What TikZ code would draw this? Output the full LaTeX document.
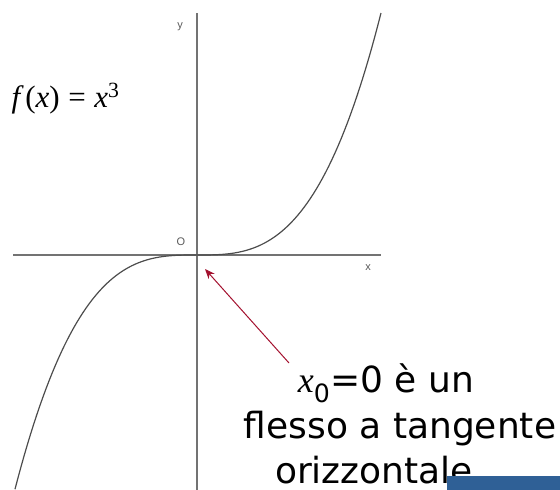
\documentclass[tikz,border=0pt]{standalone}
\usepackage{fontspec}
\setmainfont{DejaVu Sans}
\newfontfamily\lserif{Liberation Serif}
\newfontfamily\lsans{Liberation Sans}
\usetikzlibrary{arrows.meta}
\definecolor{flexred}{HTML}{A3112E}
\definecolor{barblue}{HTML}{2F6096}
\tikzset{
  axis/.style={draw=gray!90!black, line width=1.3pt},
  curve/.style={draw=black!70, line width=1.2pt},
  axlabel/.style={font=\lsans\fontsize{11}{11}\selectfont, text=black!65},
  noteline/.style={font=\fontsize{36}{36}\selectfont, anchor=base},
  pointer/.style={draw=flexred, line width=1pt, -{Stealth[length=10pt,width=8pt]}}
}
\begin{document}
\begin{tikzpicture}[x=1pt,y=-1pt]
\useasboundingbox (0,0) rectangle (560,490);
\coordinate (O) at (197,255);
% axes
\draw[axis] (13,255) -- (381,255);
\draw[axis] (197,13) -- (197,490);
\node[axlabel] (ylab) at (180,27) {y};
\node[axlabel] (xlab) at (368,268) {x};
\node[axlabel] (olab) at (181,242) {O};
% the cubic
\draw[curve] plot[domain=15:381, samples=120] (\x, {255-242*((\x-197)/184)^3});
\node[font=\lserif\fontsize{31}{31}\selectfont, anchor=base west] (func) at (8,107)
  {\itshape f\,\upshape(\itshape x\upshape)\;=\;\itshape x\upshape\textsuperscript{3}};
% label and arrow
\node[noteline] (note1) at (386,392) {{\lserif\itshape x}\textsubscript{0}=0 è un};
\node[noteline] (note2) at (400,438) {flesso a tangente};
\node[noteline] (note3) at (374,483) {orizzontale};
\coordinate (tail) at (289,363);
\coordinate (tip) at (205,269);
\draw[pointer] (tail) -- (tip);
\fill[barblue] (447,476) rectangle (560,490);
\end{tikzpicture}
\end{document}
